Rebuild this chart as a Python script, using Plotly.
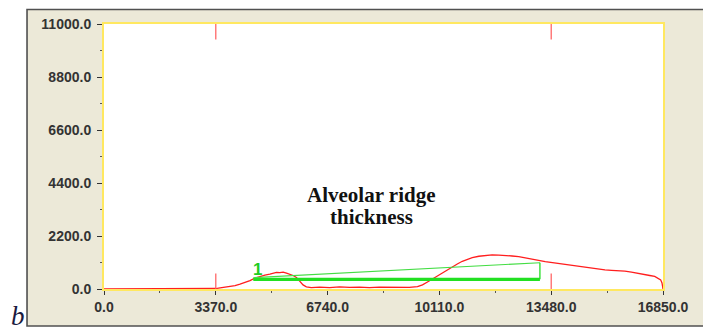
import plotly.graph_objects as go

# ---- data ----
profile_x = [0, 1000, 2000, 3000, 3370, 3500, 3650, 3800, 3950, 4100, 4250, 4400, 4550, 4700,
             4850, 5000, 5100, 5200, 5300, 5400, 5500, 5600, 5700, 5800, 5900, 6000, 6100,
             6250, 6500, 6800, 7100, 7400, 7700, 8000, 8300, 8600, 8900, 9200, 9450, 9600,
             9750, 9900, 10050, 10200, 10350, 10500, 10650, 10800, 10950, 11100, 11300,
             11500, 11700, 11900, 12100, 12300, 12500, 12700, 12900, 13100, 13300, 13500,
             13700, 13900, 14100, 14300, 14500, 14700, 14900, 15100, 15300, 15500, 15700,
             15900, 16100, 16300, 16450, 16600, 16700, 16780, 16820, 16850]
profile_y = [0, 0, 0, 0, 20, 45, 70, 100, 140, 200, 270, 350, 450, 520,
             580, 620, 660, 690, 680, 700, 660, 620, 560, 480, 330, 170, 90,
             60, 75, 60, 85, 65, 80, 60, 75, 65, 80, 70, 95, 170,
             290, 420, 540, 670, 800, 920, 1040, 1150, 1240, 1300, 1360,
             1400, 1420, 1410, 1400, 1370, 1340, 1300, 1250, 1190, 1140, 1100,
             1060, 1030, 990, 950, 890, 840, 800, 790, 770, 770, 740,
             700, 660, 600, 560, 520, 450, 380, 250, 0]

cursor_x = [3370, 13480]          # red cursor marks (top and bottom)
measure_x = [4500, 13140]         # green measurement bar
measure_base = [400, 400]
measure_slope = [470, 1090]
measure_label = "1"

x_ticks = [0, 3370, 6740, 10110, 13480, 16850]
y_ticks = [0, 2200, 4400, 6600, 8800, 11000]

annotation_lines = ["Alveolar ridge", "thickness"]
panel_letter = "b"

X_MAX, Y_MAX = 16850, 11000
CURSOR_LEN = 640

fig = go.Figure()

# main red profile
fig.add_trace(go.Scatter(x=profile_x, y=profile_y, mode="lines",
                         line=dict(color="#FF1E1E", width=1.3),
                         cliponaxis=False, hoverinfo="skip", showlegend=False))

# red cursors
for cx in cursor_x:
    fig.add_trace(go.Scatter(x=[cx, cx], y=[0, CURSOR_LEN], mode="lines",
                             line=dict(color="#FF5A5A", width=1.2),
                             cliponaxis=False, showlegend=False, hoverinfo="skip"))
    fig.add_trace(go.Scatter(x=[cx, cx], y=[Y_MAX - CURSOR_LEN, Y_MAX], mode="lines",
                             line=dict(color="#FF5A5A", width=1.2),
                             cliponaxis=False, showlegend=False, hoverinfo="skip"))

# green measurement
fig.add_trace(go.Scatter(x=measure_x, y=measure_base, mode="lines",
                         line=dict(color="#22E022", width=3.2),
                         showlegend=False, hoverinfo="skip"))
fig.add_trace(go.Scatter(x=measure_x, y=measure_slope, mode="lines",
                         line=dict(color="#44DD44", width=1.1),
                         showlegend=False, hoverinfo="skip"))
fig.add_trace(go.Scatter(x=[measure_x[1], measure_x[1]], y=[measure_base[1], measure_slope[1]],
                         mode="lines", line=dict(color="#22DD22", width=1.3),
                         showlegend=False, hoverinfo="skip"))

axis_font = dict(family="Liberation Sans", size=14, color="#333333", weight="bold")

fig.update_layout(
    width=703, height=332, autosize=False,
    margin=dict(l=104, r=40, t=24, b=43, pad=0),
    paper_bgcolor="white", plot_bgcolor="white",
    showlegend=False,
    xaxis=dict(range=[0, X_MAX], tickmode="array", tickvals=x_ticks, tickformat=".1f",
               showline=True, linecolor="#FFE860", linewidth=2, mirror=True,
               ticks="outside", ticklen=4, tickcolor="#333333", tickwidth=1,
               tickfont=axis_font, showgrid=False, zeroline=False, layer="below traces",
               minor=dict(tickvals=[1685, 5055, 8425, 11795, 15165], ticks="outside",
                          ticklen=2, tickcolor="#555555", showgrid=False)),
    yaxis=dict(range=[0, Y_MAX], tickmode="array", tickvals=y_ticks, tickformat=".1f",
               showline=True, linecolor="#FFE860", linewidth=2, mirror=True,
               ticks="outside", ticklen=5, tickcolor="#333333", tickwidth=1,
               tickfont=axis_font, showgrid=False, zeroline=False, layer="below traces",
               ticklabelstandoff=3,
               minor=dict(tickvals=[1100, 3300, 5500, 7700, 9900], ticks="outside",
                          ticklen=2, tickcolor="#555555", showgrid=False)),
    shapes=[
        dict(type="rect", xref="paper", yref="paper", x0=-0.1377, x1=1.10, y0=-0.1396, y1=1.0547,
             fillcolor="#ECE9D8", line=dict(color="#505050", width=1.6), layer="below"),
        dict(type="rect", xref="paper", yref="paper", x0=0, x1=1, y0=0, y1=1,
             fillcolor="white", line=dict(width=0), layer="below"),
    ],
    annotations=[
        dict(text=annotation_lines[0], xref="paper", yref="paper", x=0.4794, y=0.355,
             xanchor="center", yanchor="middle", showarrow=False,
             font=dict(family="Liberation Serif", size=21, color="#111111", weight="bold")),
        dict(text=annotation_lines[1], xref="paper", yref="paper", x=0.4794, y=0.272,
             xanchor="center", yanchor="middle", showarrow=False,
             font=dict(family="Liberation Serif", size=21, color="#111111", weight="bold")),
        dict(text=measure_label, x=4612, y=800, xref="x", yref="y", showarrow=False,
             font=dict(family="Liberation Sans", size=17, color="#22CC22", weight="bold")),
        dict(text="<i>" + panel_letter + "</i>", xref="paper", yref="paper", x=-0.1538, y=-0.102,
             xanchor="center", yanchor="middle", showarrow=False,
             font=dict(family="Liberation Serif", size=27, color="#1a1a40")),
    ],
)

fig.write_html("out.html")
